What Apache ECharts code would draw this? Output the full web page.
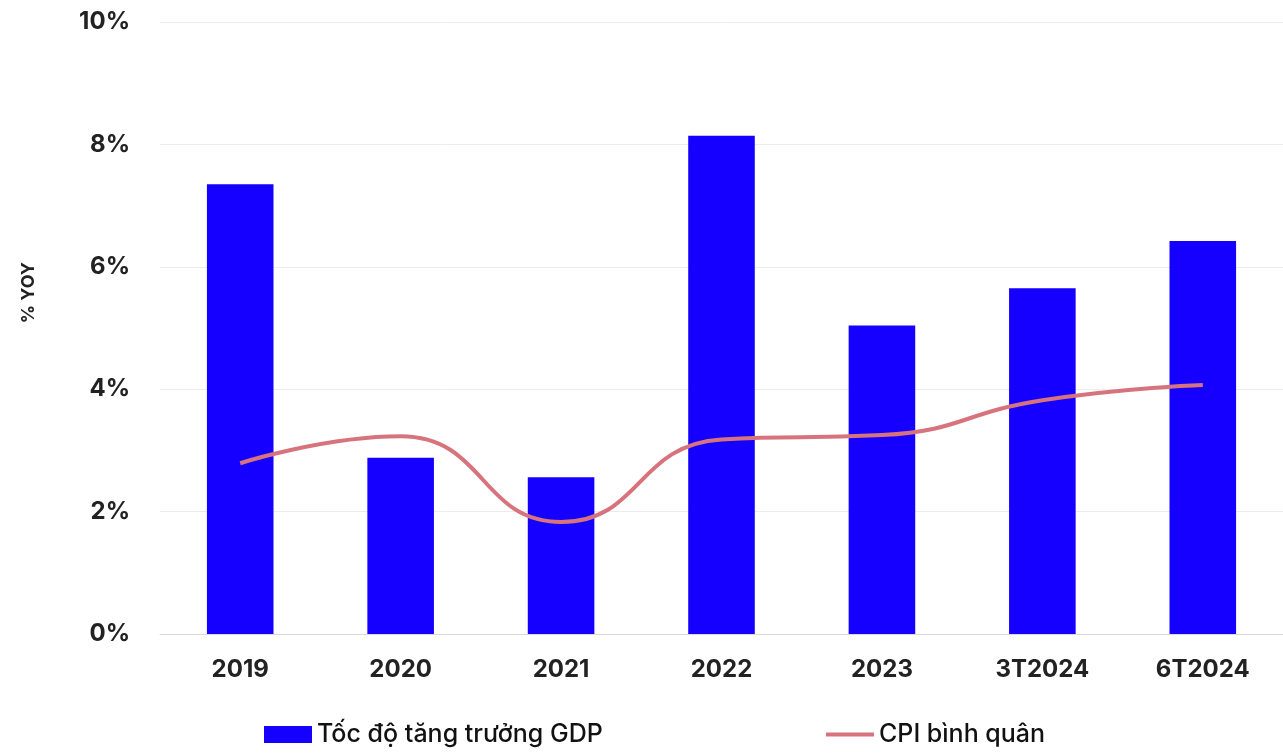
<!DOCTYPE html>
<html>

<head>
    <meta charset="utf-8">
    <title>GDP va CPI</title>
    <script src="https://cdn.jsdelivr.net/npm/echarts@6/dist/echarts.min.js"></script>
    <style>
        html, body { margin: 0; padding: 0; background: #fff; }
        #chart { width: 1283px; height: 753px; }
    </style>
</head>

<body>
    <div id="chart"></div>

    <script type="text/javascript">
        var categories = ['2019', '2020', '2021', '2022', '2023', '3T2024', '6T2024'];
        var gdpGrowth = [7.35, 2.88, 2.56, 8.14, 5.04, 5.65, 6.42];
        var cpiAvg = [2.79, 3.23, 1.83, 3.18, 3.25, 3.82, 4.07];
        var gdpName = 'Tốc độ tăng trưởng GDP';
        var cpiName = 'CPI bình quân';

        var font = 'Inter, "Noto Sans", sans-serif';

        var myChart = echarts.init(document.getElementById('chart'), null, { renderer: 'canvas' });

        var option = {
            animation: false,
            grid: { left: 160, right: -5, top: 22, bottom: 119, containLabel: false },
            legend: [
                {
                    data: [gdpName],
                    left: 264, top: 722, padding: 0,
                    icon: 'rect', itemWidth: 48, itemHeight: 17, itemGap: 6,
                    textStyle: { fontFamily: font, fontSize: 25, color: '#111', fontWeight: 500 }
                },
                {
                    data: [cpiName],
                    left: 826, top: 722, padding: 0,
                    icon: 'rect', itemWidth: 48, itemHeight: 4, itemGap: 6,
                    textStyle: { fontFamily: font, fontSize: 25, color: '#111', fontWeight: 500 }
                }
            ],
            graphic: [{
                type: 'text',
                left: 20, top: 262,
                rotation: Math.PI / 2,
                style: {
                    text: '% YOY',
                    font: '700 18px ' + font,
                    fill: '#222'
                }
            }],
            xAxis: {
                type: 'category',
                data: categories,
                axisLine: { lineStyle: { color: '#d9d9d9', width: 1 } },
                axisTick: { show: false },
                axisLabel: { fontFamily: font, fontSize: 24, fontWeight: 700, color: '#222', margin: 24 }
            },
            yAxis: {
                type: 'value',
                min: 0, max: 10, interval: 2,
                axisLabel: {
                    fontFamily: font, fontSize: 24, fontWeight: 700, color: '#222', margin: 30,
                    formatter: '{value}%'
                },
                splitLine: { lineStyle: { color: '#ececec', width: 1 } },
                axisLine: { show: false },
                axisTick: { show: false }
            },
            series: [
                {
                    name: gdpName,
                    type: 'bar',
                    data: gdpGrowth,
                    barWidth: '41.5%',
                    itemStyle: { color: '#1500ff' }
                },
                {
                    name: cpiName,
                    type: 'line',
                    data: cpiAvg,
                    smooth: 0.5,
                    showSymbol: false,
                    symbol: 'none',
                    lineStyle: { color: '#d7737d', width: 4 },
                    itemStyle: { color: '#d7737d' }
                }
            ]
        };

        myChart.setOption(option);
    </script>
</body>

</html>
